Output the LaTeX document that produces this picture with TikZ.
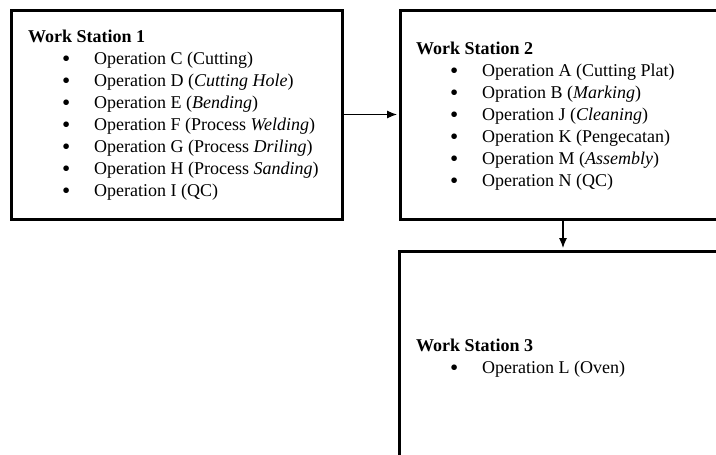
\documentclass[tikz,border=0pt]{standalone}
\usepackage{fontspec}
\setmainfont{Liberation Serif}
\usetikzlibrary{arrows.meta,positioning}

\newcommand{\wsbullet}{\smash{\raisebox{-1.5pt}{\scalebox{1.3}{\textbullet}}}}
\newcommand{\wsop}[1]{\hspace*{34pt}\makebox[32pt][l]{\wsbullet}#1}

\begin{document}
\begin{tikzpicture}[
  x=1pt, y=-1pt,
  font=\fontsize{18}{22}\selectfont,
  station/.style={draw=black, line width=3pt, inner sep=0pt},
  oplist/.style={anchor=north west, align=left, inner sep=0pt},
  flow/.style={-{Latex[length=10pt,width=8pt]}, line width=1.1pt, shorten >=1.5pt}
]

\useasboundingbox (0,0) rectangle (716,455);
\clip (0,0) rectangle (716,455);

% Station frames (two of them run past the page edge).
\node[station, minimum width=331pt, minimum height=209pt] (ws1) at (176.5,114.5) {};
\node[station, minimum width=326pt, minimum height=209pt] (ws2) at (563,114.5) {};
\node[station, minimum width=328pt, minimum height=260pt] (ws3) at (563,381) {};

% Operations of each station.
\node[oplist] (ws1ops) at (28,30)
  {\textbf{Work Station 1}\\
   \wsop{Operation C (Cutting)}\\
   \wsop{Operation D (\textit{Cutting Hole})}\\
   \wsop{Operation E (\textit{Bending})}\\
   \wsop{Operation F (Process \textit{Welding})}\\
   \wsop{Operation G (Process \textit{Driling})}\\
   \wsop{Operation H (Process \textit{Sanding})}\\
   \wsop{Operation I (QC)}};

\node[oplist] (ws2ops) at (416,42)
  {\textbf{Work Station 2}\\
   \wsop{Operation A (Cutting Plat)}\\
   \wsop{Opration B (\textit{Marking})}\\
   \wsop{Operation J (\textit{Cleaning})}\\
   \wsop{Operation K (Pengecatan)}\\
   \wsop{Operation M (\textit{Assembly})}\\
   \wsop{Operation N (QC)}};

\node[oplist] (ws3ops) at (416,339)
  {\textbf{Work Station 3}\\
   \wsop{Operation L (Oven)}};

% Flow between stations.
\draw[flow] (ws1.east) -- (ws2.west);
\draw[flow] (ws2.south) -- (ws3.north);

\end{tikzpicture}
\end{document}
